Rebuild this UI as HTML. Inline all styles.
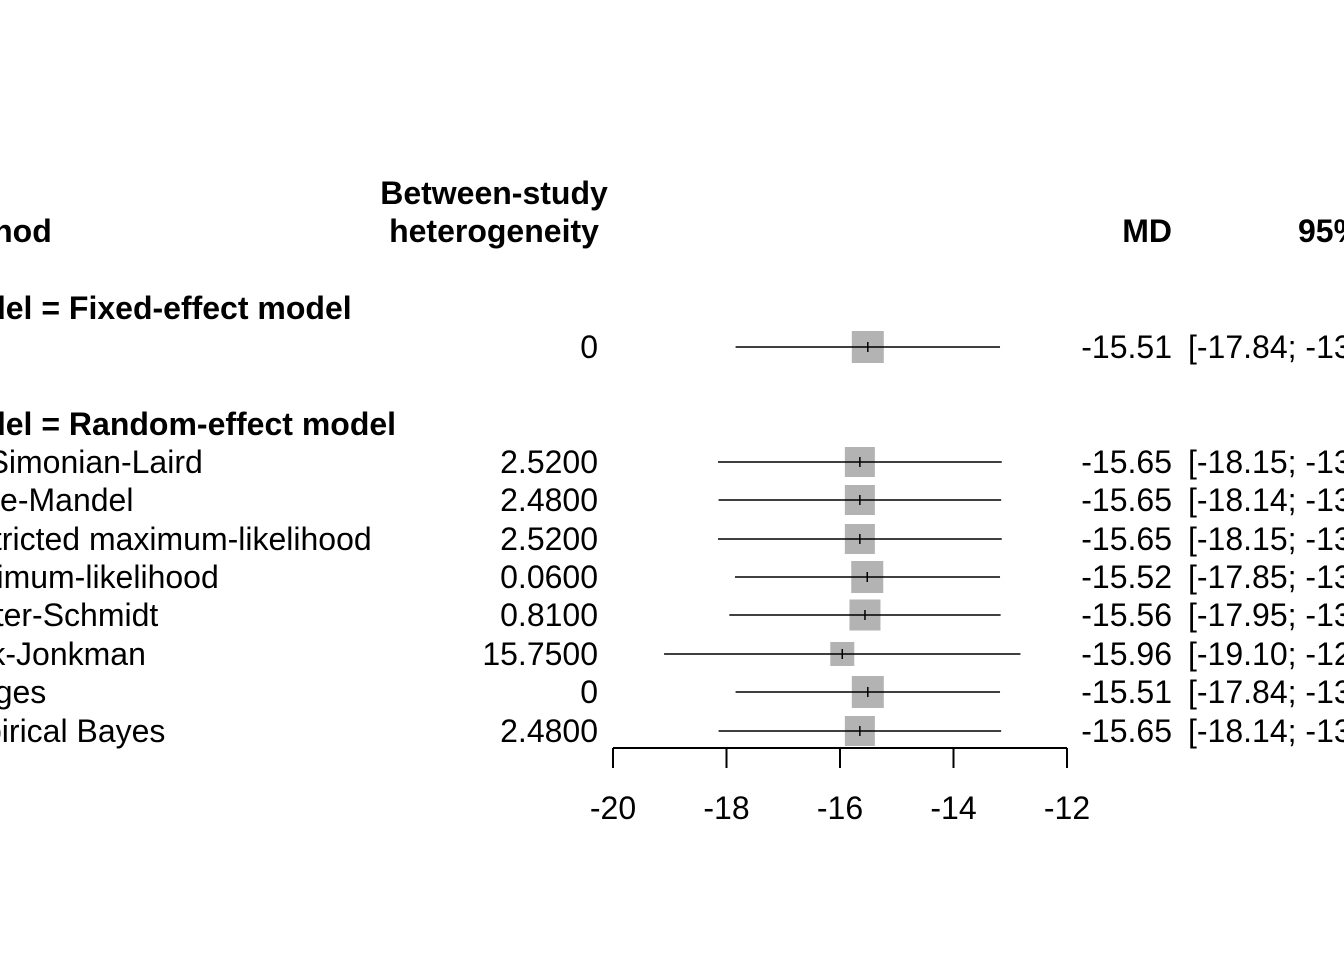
<!DOCTYPE html>
<html><head><meta charset="utf-8"><style>
html,body{margin:0;padding:0;background:#fff;}
svg text{font-family:"Liberation Sans",Arial,sans-serif;font-size:32px;fill:#000;}
.b{font-weight:bold;}
</style></head><body>
<svg id="chart" width="1344" height="960" viewBox="0 0 1344 960" xmlns="http://www.w3.org/2000/svg">
<g id="hdr">
<text class="b" x="-62" y="242">Method</text>
<text class="b" x="494" y="204" text-anchor="middle">Between-study</text>
<text class="b" x="494" y="242" text-anchor="middle">heterogeneity</text>
<text class="b" x="1172" y="242" text-anchor="end">MD</text>
<text class="b" x="1298" y="242">95%-CI</text>
<text class="b" x="-60" y="319">Model = Fixed-effect model</text>
<text class="b" x="-60" y="435">Model = Random-effect model</text>
</g>
<g id="rows"></g>
<g id="axis"></g>
</svg>
<script>
const labels=["","DerSimonian-Laird","Paule-Mandel","Restricted maximum-likelihood","Maximum-likelihood","Hunter-Schmidt","Sidik-Jonkman","Hedges","Empirical Bayes"];
const tau2=["0","2.5200","2.4800","2.5200","0.0600","0.8100","15.7500","0","2.4800"];
const md=[-15.51,-15.65,-15.65,-15.65,-15.52,-15.56,-15.96,-15.51,-15.65];
const lower=[-17.84,-18.15,-18.14,-18.15,-17.85,-17.95,-19.10,-17.84,-18.14];
const upper=[-13.18,-13.15,-13.16,-13.15,-13.18,-13.17,-12.82,-13.18,-13.16];
const weights=[32,30,30,30,32,31,24,32,30];
const ticks=[-20,-18,-16,-14,-12];
const rowY=[347,462,500,539,577,615,654,692,731];
const NS="http://www.w3.org/2000/svg";
const x=v=>613+(v+20)*(1067-613)/8;
function mk(t,a,txt){const e=document.createElementNS(NS,t);for(const k in a)e.setAttribute(k,a[k]);if(txt!==undefined)e.textContent=txt;return e;}
const rows=document.getElementById('rows');
labels.forEach((l,i)=>{
 const y=rowY[i];
 const t1=mk('text',{x:-64,y:y+11},l);
 
 
 rows.appendChild(t1);
 const t2=mk('text',{x:598,y:y+11,'text-anchor':'end'},tau2[i]);
 
 
 rows.appendChild(t2);
 const s=weights[i];
 const sq=mk('rect',{x:x(md[i])-s/2,y:y-s/2,width:s,height:s,fill:'#b3b3b3'});
 
 
 rows.appendChild(sq);
 const ci=mk('line',{x1:x(lower[i]),x2:x(upper[i]),y1:y,y2:y,stroke:'#000','stroke-width':1.5});
 
 
 rows.appendChild(ci);
 const tk=mk('line',{x1:x(md[i]),x2:x(md[i]),y1:y-5,y2:y+5,stroke:'#000','stroke-width':1.5});
 
 
 rows.appendChild(tk);
 const t3=mk('text',{x:1172,y:y+11,'text-anchor':'end'},md[i].toFixed(2));
 
 
 rows.appendChild(t3);
 const t4=mk('text',{x:1188,y:y+11},'['+lower[i].toFixed(2)+'; '+upper[i].toFixed(2)+']');
 
 
 rows.appendChild(t4);
});
const ax=document.getElementById('axis');
const al=mk('line',{x1:x(ticks[0]),x2:x(ticks[ticks.length-1]),y1:748,y2:748,stroke:'#000','stroke-width':2});


ax.appendChild(al);
ticks.forEach(v=>{
 const tl=mk('line',{x1:x(v),x2:x(v),y1:748,y2:768,stroke:'#000','stroke-width':2});
 
 
 ax.appendChild(tl);
 const tt=mk('text',{x:x(v),y:819,'text-anchor':'middle'},String(v));
 
 
 ax.appendChild(tt);
});
</script>
</body></html>
